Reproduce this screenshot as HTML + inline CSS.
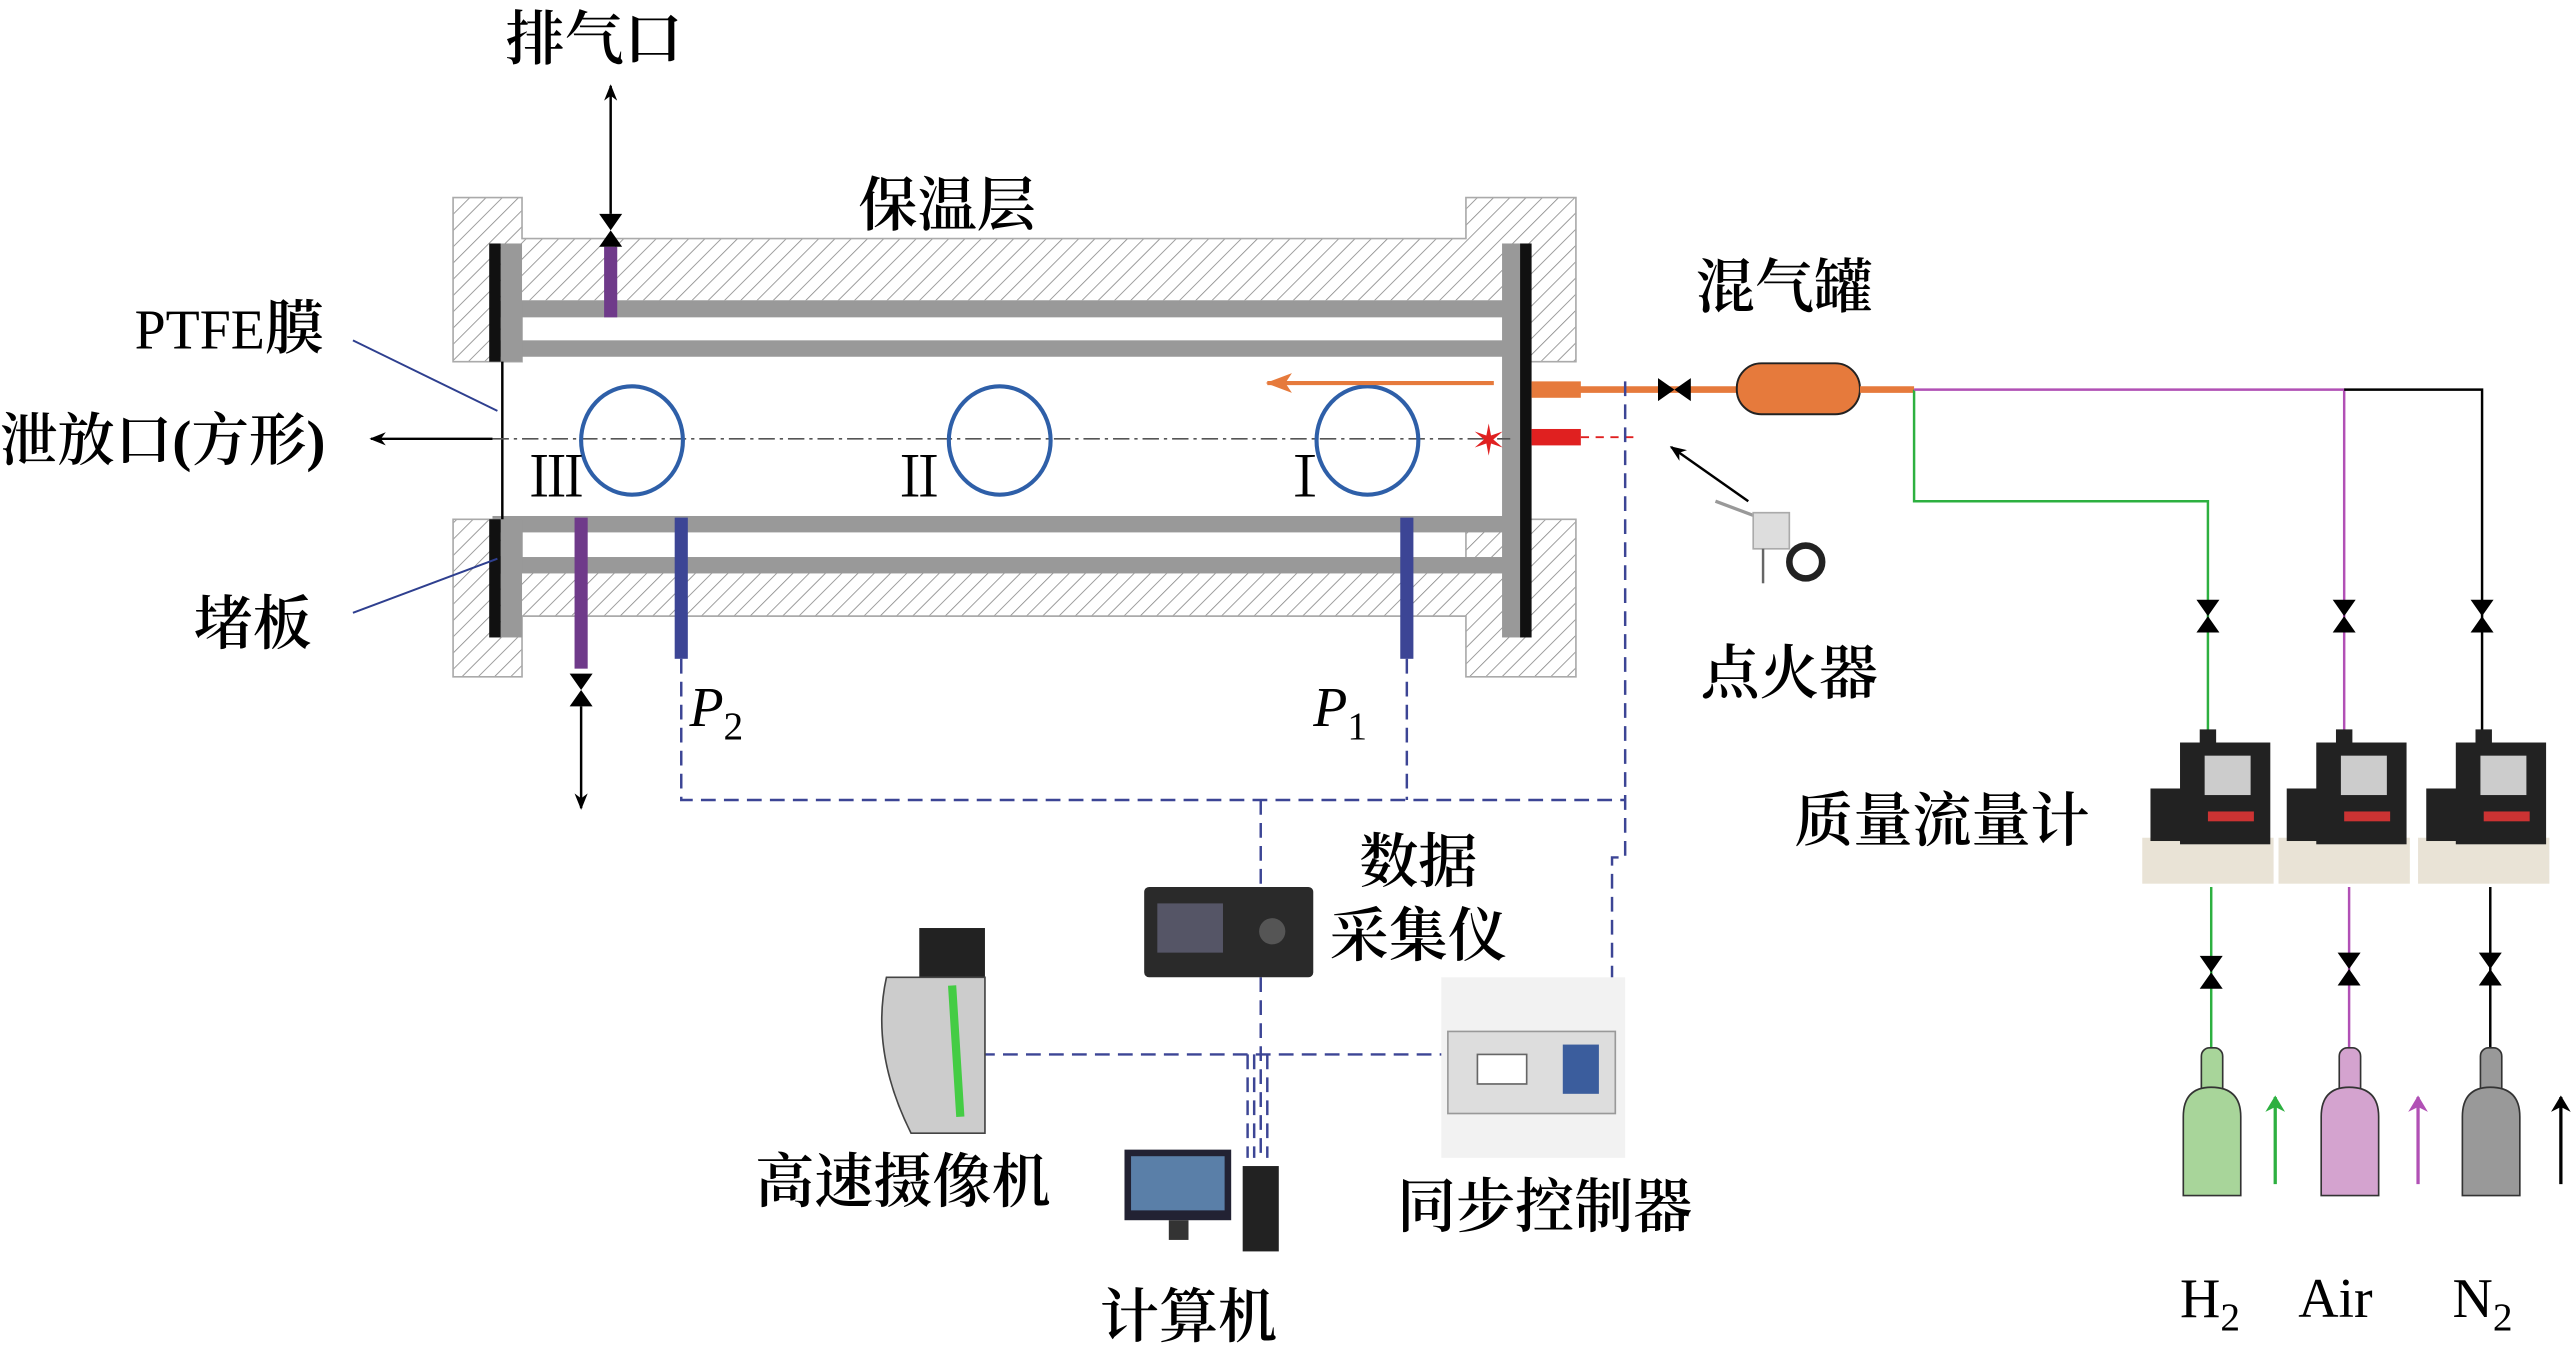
<!DOCTYPE html>
<html><head><meta charset="utf-8"><style>
html,body{margin:0;padding:0;background:#fff;}
svg{display:block;}
text{font-family:"Liberation Serif","Noto Serif CJK SC","Noto Sans CJK SC",serif;fill:#000;}
.cj{font-weight:600;}
</style></head><body>
<svg width="2574" height="1357" viewBox="0 0 1568 826" xmlns="http://www.w3.org/2000/svg">
<defs>
<pattern id="h" width="7" height="7" patternUnits="userSpaceOnUse" patternTransform="rotate(45)">
<rect width="7" height="7" fill="#fff"/><line x1="0" y1="0" x2="0" y2="7" stroke="#888" stroke-width="1"/></pattern>
<marker id="ab" markerWidth="10" markerHeight="10" refX="9" refY="5" orient="auto" markerUnits="userSpaceOnUse"><path d="M0,1 L10,5 L0,9 L3,5z" fill="#000"/></marker>
<marker id="ao" markerWidth="16" markerHeight="14" refX="15" refY="7" orient="auto" markerUnits="userSpaceOnUse"><path d="M0,1 L16,7 L0,13 L4,7z" fill="#e67a3c"/></marker>
<marker id="ag" markerWidth="10" markerHeight="14" refX="9" refY="7" orient="auto" markerUnits="userSpaceOnUse"><path d="M0,1 L10,7 L0,13 L3,7z" fill="#2db040"/></marker>
<marker id="am" markerWidth="10" markerHeight="14" refX="9" refY="7" orient="auto" markerUnits="userSpaceOnUse"><path d="M0,1 L10,7 L0,13 L3,7z" fill="#b150b5"/></marker>
<marker id="ak" markerWidth="10" markerHeight="14" refX="9" refY="7" orient="auto" markerUnits="userSpaceOnUse"><path d="M0,1 L10,7 L0,13 L3,7z" fill="#000"/></marker>
<g id="vv"><path d="M-7,-10 L7,-10 L0,0z M-7,10 L7,10 L0,0z" fill="#000"/></g>
<g id="vh"><path d="M-10,-7 L-10,7 L0,0z M10,-7 L10,7 L0,0z" fill="#000"/></g>
</defs>

<path d="M276,120 H318 V145 H893 V120 H960 V220 H918 V183 H318 V220 H276Z" fill="url(#h)" stroke="#aaa"/>
<path d="M276,316 H318 V348 H893 V316 H960 V412 H893 V375 H318 V412 H276Z" fill="url(#h)" stroke="#aaa"/>
<rect x="300" y="183" width="625" height="10" fill="#999"/>
<rect x="300" y="207" width="625" height="10" fill="#999"/>
<rect x="300" y="314" width="625" height="10" fill="#999"/>
<rect x="300" y="339" width="625" height="10" fill="#999"/>
<rect x="305" y="148" width="13" height="72" fill="#999"/>
<rect x="305" y="316" width="13" height="72" fill="#999"/>
<rect x="915" y="148" width="12" height="240" fill="#999"/>
<rect x="298" y="148" width="7" height="72" fill="#111"/>
<rect x="298" y="316" width="7" height="72" fill="#111"/>
<rect x="926" y="148" width="7" height="240" fill="#111"/>
<line x1="306" y1="220" x2="306" y2="316" stroke="#000" stroke-width="1.5"/>
<line x1="300" y1="267" x2="920" y2="267" stroke="#555" stroke-width="1" stroke-dasharray="10,3,2,3"/>
<line x1="300" y1="267" x2="226" y2="267" stroke="#000" stroke-width="1.5" marker-end="url(#ab)"/>
<ellipse cx="385" cy="268" rx="31" ry="33" fill="none" stroke="#2e5fa8" stroke-width="2.5"/>
<ellipse cx="609" cy="268" rx="31" ry="33" fill="none" stroke="#2e5fa8" stroke-width="2.5"/>
<ellipse cx="833" cy="268" rx="31" ry="33" fill="none" stroke="#2e5fa8" stroke-width="2.5"/>
<text x="322" y="302" font-size="34">Ⅲ</text>
<text x="543" y="302" font-size="34">Ⅱ</text>
<text x="778" y="302" font-size="34">Ⅰ</text>
<line x1="910" y1="233" x2="772" y2="233" stroke="#e67a3c" stroke-width="2.5" marker-end="url(#ao)"/>
<text x="896" y="277" font-size="26" style="fill:#e02020">✶</text>
<rect x="933" y="232" width="30" height="10" fill="#e67a3c"/>
<line x1="960" y1="237" x2="1060" y2="237" stroke="#e67a3c" stroke-width="4"/>
<use href="#vh" x="1020" y="237"/>
<rect x="1058" y="221" width="75" height="31" rx="15" fill="#e67a3c" stroke="#222" stroke-width="1.2"/>
<line x1="1133" y1="237" x2="1166" y2="237" stroke="#e67a3c" stroke-width="4"/>
<rect x="933" y="261" width="30" height="10" fill="#e02020"/>
<line x1="963" y1="266" x2="995" y2="266" stroke="#e02020" stroke-width="1.2" stroke-dasharray="5,4"/>
<polyline points="1166,237 1166,305 1345,305 1345,445" fill="none" stroke="#2db040" stroke-width="1.5"/>
<polyline points="1166,237 1428,237 1428,445" fill="none" stroke="#b150b5" stroke-width="1.5"/>
<polyline points="1428,237 1512,237 1512,445" fill="none" stroke="#000" stroke-width="1.5"/>
<line x1="1347" y1="540" x2="1347" y2="640" stroke="#2db040" stroke-width="1.5"/>
<line x1="1431" y1="540" x2="1431" y2="640" stroke="#b150b5" stroke-width="1.5"/>
<line x1="1517" y1="540" x2="1517" y2="640" stroke="#000" stroke-width="1.5"/>
<use href="#vv" x="1345" y="375"/><use href="#vv" x="1428" y="375"/><use href="#vv" x="1512" y="375"/>
<use href="#vv" x="1347" y="592"/><use href="#vv" x="1431" y="590"/><use href="#vv" x="1517" y="590"/>
<g id="fm">
<rect x="1305" y="510" width="80" height="28" fill="#e9e3d6"/>
<rect x="1328" y="452" width="55" height="62" fill="#222"/>
<rect x="1340" y="444" width="10" height="10" fill="#222"/>
<rect x="1310" y="480" width="20" height="32" fill="#222"/>
<rect x="1343" y="460" width="28" height="24" fill="#ccc"/>
<rect x="1345" y="494" width="28" height="6" fill="#c33"/>
</g>
<use href="#fm" x="83"/><use href="#fm" x="168"/>
<rect x="1341" y="638" width="13" height="30" rx="5" fill="#a8d59a" stroke="#333"/>
<path d="M1330,728 V680 Q1330,662 1347,662 Q1365,662 1365,680 V728Z" fill="#a8d59a" stroke="#333"/>
<rect x="1425" y="638" width="13" height="30" rx="5" fill="#d4a3cf" stroke="#333"/>
<path d="M1414,728 V680 Q1414,662 1431,662 Q1449,662 1449,680 V728Z" fill="#d4a3cf" stroke="#333"/>
<rect x="1511" y="638" width="13" height="30" rx="5" fill="#999" stroke="#333"/>
<path d="M1500,728 V680 Q1500,662 1517,662 Q1535,662 1535,680 V728Z" fill="#999" stroke="#333"/>
<line x1="1386" y1="721" x2="1386" y2="668" stroke="#2db040" stroke-width="2" marker-end="url(#ag)"/>
<line x1="1473" y1="721" x2="1473" y2="668" stroke="#b150b5" stroke-width="2" marker-end="url(#am)"/>
<line x1="1560" y1="721" x2="1560" y2="668" stroke="#000" stroke-width="2" marker-end="url(#ak)"/>
<text x="1328" y="802" font-size="34">H<tspan font-size="24" dy="8">2</tspan></text>
<text x="1400" y="802" font-size="34">Air</text>
<text x="1494" y="802" font-size="34">N<tspan font-size="24" dy="8">2</tspan></text>
<rect x="368" y="150" width="8" height="43" fill="#6f3a8a"/>
<use href="#vv" x="372" y="140"/>
<line x1="372" y1="130" x2="372" y2="52" stroke="#000" stroke-width="1.5" marker-end="url(#ab)"/>
<rect x="350" y="315" width="8" height="92" fill="#6f3a8a"/>
<use href="#vv" x="354" y="420"/>
<line x1="354" y1="430" x2="354" y2="492" stroke="#000" stroke-width="1.5" marker-end="url(#ab)"/>
<rect x="411" y="315" width="8" height="86" fill="#3c4595"/>
<rect x="853" y="315" width="8" height="86" fill="#3c4595"/>
<g fill="none" stroke="#3c4595" stroke-width="1.5" stroke-dasharray="9,5">
<polyline points="415,401 415,487 990,487"/>
<line x1="857" y1="401" x2="857" y2="487"/>
<polyline points="990,232 990,522 982,522 982,640"/>
<line x1="768" y1="487" x2="768" y2="545"/>
<line x1="768" y1="595" x2="768" y2="705"/>
<polyline points="597,642 880,642"/>
<line x1="760" y1="642" x2="760" y2="705"/>
<line x1="764" y1="642" x2="764" y2="705"/>
<line x1="772" y1="642" x2="772" y2="705"/>
</g>
<line x1="215" y1="207" x2="303" y2="250" stroke="#2e3f8f" stroke-width="1.2"/>
<line x1="215" y1="373" x2="303" y2="340" stroke="#2e3f8f" stroke-width="1.2"/>
<line x1="1065" y1="305" x2="1018" y2="272" stroke="#000" stroke-width="1.5" marker-end="url(#ab)"/>
<line x1="1045" y1="305" x2="1085" y2="320" stroke="#999" stroke-width="2"/>
<rect x="1068" y="312" width="22" height="22" fill="#ddd" stroke="#aaa"/>
<circle cx="1100" cy="342" r="10" fill="none" stroke="#222" stroke-width="4"/>
<line x1="1074" y1="334" x2="1074" y2="355" stroke="#666" stroke-width="1.5"/>
<rect x="697" y="540" width="103" height="55" rx="3" fill="#2a2a2a"/>
<rect x="705" y="550" width="40" height="30" fill="#556"/>
<circle cx="775" cy="567" r="8" fill="#555"/>
<rect x="560" y="565" width="40" height="30" fill="#222"/>
<path d="M540,595 L600,595 L600,690 L555,690 Q530,640 540,595Z" fill="#ccc" stroke="#444"/>
<line x1="580" y1="600" x2="585" y2="680" stroke="#4c4" stroke-width="5"/>
<rect x="685" y="700" width="65" height="43" fill="#223"/>
<rect x="689" y="704" width="57" height="33" fill="#5a7fa8"/>
<rect x="712" y="743" width="12" height="12" fill="#333"/>
<rect x="757" y="710" width="22" height="52" fill="#222"/>
<rect x="878" y="595" width="112" height="110" fill="#f2f2f2"/>
<rect x="882" y="628" width="102" height="50" fill="#ddd" stroke="#999"/>
<rect x="900" y="642" width="30" height="18" fill="#fff" stroke="#666"/>
<rect x="952" y="636" width="22" height="30" fill="#3b5d9d"/>
<g font-size="36" class="cj">
<text x="308" y="36">排气口</text>
<text x="523" y="137">保温层</text>
<text x="1033" y="187">混气罐</text>
<text x="1036" y="422">点火器</text>
<text x="1093" y="512">质量流量计</text>
<text x="828" y="537">数据</text>
<text x="810" y="582">采集仪</text>
<text x="460" y="732">高速摄像机</text>
<text x="670" y="814">计算机</text>
<text x="851" y="747">同步控制器</text>
<text x="118" y="392">堵板</text>
</g>
<g font-size="34">
<text x="82" y="212">PTFE<tspan class="cj" font-size="36">膜</tspan></text>
<text x="0" y="280" class="cj" font-size="35">泄放口(方形)</text>
<text x="420" y="442" font-style="italic">P<tspan font-size="24" dy="8" font-style="normal">2</tspan></text>
<text x="800" y="442" font-style="italic">P<tspan font-size="24" dy="8" font-style="normal">1</tspan></text>
</g>
</svg>
</body></html>
